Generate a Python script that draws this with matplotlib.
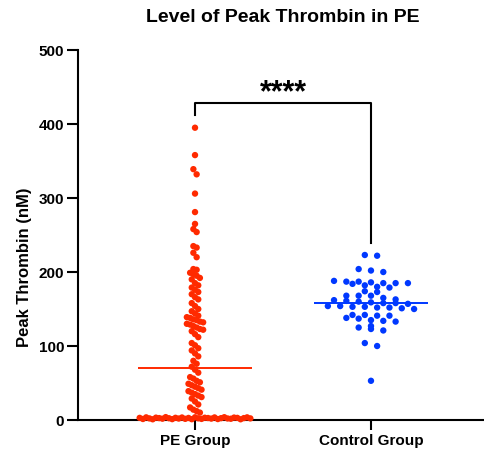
import numpy as np
import matplotlib
matplotlib.use('Agg')
import matplotlib.pyplot as plt

plt.rcParams['font.family'] = ['Liberation Sans', 'DejaVu Sans']
plt.rcParams['font.weight'] = 'bold'

# Peak thrombin (nM) per subject
pe_group = [
    395, 358, 339, 332, 306, 281, 265, 258, 254, 235, 233, 226, 220, 204,
    203, 199, 197, 195, 192, 190,
    185, 182, 179, 176,
    173, 170, 166, 163,
    158, 154, 150, 147, 144, 141, 139,
    138, 136, 135, 133, 132, 130, 129, 127, 125, 123, 122,
    120, 116, 112,
    104, 101, 97, 94, 90, 86,
    80, 76, 72, 68, 64,
    58, 56, 53, 51, 49, 47, 45, 43, 41, 39, 37, 35, 33, 31,
    29, 25, 21, 17,
    14, 12, 10,
    2.9, 1.4, 3.6, 2.2, 1.0, 3.2, 2.6, 1.8, 3.9, 2.4, 1.2, 3.0, 2.0,
    3.4, 1.6, 2.8, 1.1, 3.7, 2.3, 1.5, 3.1, 2.7, 1.9, 3.5, 1.3, 2.5,
    3.8, 2.1, 1.7, 3.3, 2.9, 1.0, 2.6, 3.6, 2.2,
]
control_group = [
    223, 222, 204, 202, 200,
    188, 187, 187, 186, 185, 185, 185, 184, 182,
    180, 179, 174, 173,
    168, 168, 168, 165, 163, 162, 161, 160,
    159, 158, 158, 157,
    154, 154, 153, 153, 152, 152, 151, 150,
    142, 142, 141, 141, 138, 137, 135, 134, 133,
    127, 125, 123, 121,
    104, 100, 53,
]
groups = ['PE Group', 'Control Group']
y_ticks = [0, 100, 200, 300, 400, 500]
p_label = '****'

RED = '#FF2A00'
BLUE = '#0038FF'


def column_layout(vals, row_h, step):
    """Column scatter: group close values into rows, centre each row,
    keep the input order from left to right inside a row."""
    vals = np.asarray(vals, dtype=float)
    idx = np.argsort(vals, kind='stable')
    xs = np.zeros(len(vals))
    i = 0
    while i < len(idx):
        j = i
        while j < len(idx) and vals[idx[j]] - vals[idx[i]] < row_h:
            j += 1
        row = np.sort(idx[i:j])
        n = len(row)
        xs[row] = (np.arange(n) - (n - 1) / 2) * step
        i = j
    return xs, vals


fig = plt.figure(figsize=(4.85, 4.51), dpi=100)
ax = fig.add_axes([0.1608, 0.0687, 0.8392, 0.8204])

settings = [(pe_group, RED, 9, 0.0185), (control_group, BLUE, 6, 0.070)]
for k, (vals, col, row_h, step) in enumerate(settings):
    dx, yv = column_layout(vals, row_h, step)
    ax.scatter(k + dx, yv, s=21, color=col, edgecolors='none',
               zorder=4, clip_on=False)
    med = np.median(vals)
    ax.plot([k - 0.325, k + 0.325], [med, med], color=col, lw=1.4,
            zorder=5, solid_capstyle='butt')

# significance bracket
top = 428
ax.plot([0, 0, 1, 1], [412, top, top, 239], color='black', lw=1.5,
        clip_on=False, zorder=3)
ax.text(0.5, 442, p_label, ha='center', va='center', fontsize=22,
        fontweight='bold')

ax.set_xlim(-0.665, 1.648)
ax.set_ylim(0, 500)
ax.set_yticks(y_ticks)
ax.set_xticks([0, 1])
ax.set_xticklabels(groups)
ax.tick_params(axis='y', length=8, width=1.5, labelsize=11, pad=2)
ax.tick_params(axis='x', length=7, width=1.5, labelsize=11, pad=3)
for s in ['top', 'right']:
    ax.spines[s].set_visible(False)
for s in ['left', 'bottom']:
    ax.spines[s].set_linewidth(1.5)

fig.text(0.5835, 0.962, 'Level of Peak Thrombin in PE', ha='center',
         va='center', fontsize=14, fontweight='bold')
fig.text(25 / 485, 1 - 267 / 451, 'Peak Thrombin (nM)', rotation=90,
         ha='center', va='center', fontsize=12, fontweight='bold')

fig.savefig('out.png', dpi=100)
